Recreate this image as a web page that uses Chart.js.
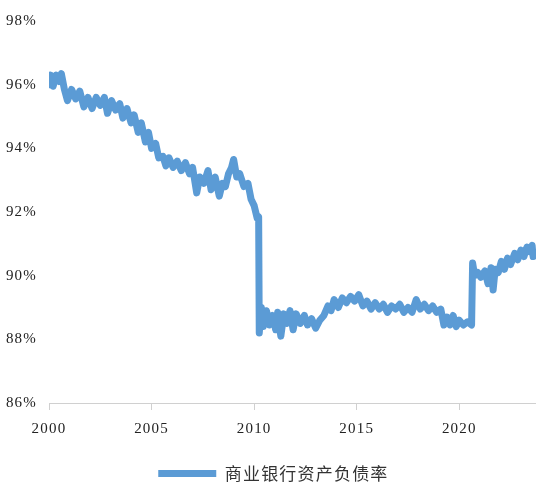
<!DOCTYPE html>
<html>
<head>
<meta charset="utf-8">
<script src="https://cdn.jsdelivr.net/npm/chart.js@4/dist/chart.umd.min.js"></script>
<style>
  html, body { margin: 0; padding: 0; background: #fff; }
  #wrap { width: 536px; height: 484px; }
</style>
</head>
<body>
<div id="wrap"><canvas id="myChart"></canvas></div>
<script>
// 时间轴（年）
let years = [
  2000.00, 2000.08, 2000.2, 2000.35, 2000.5, 2000.6, 2000.75, 2000.9,
  2001.1, 2001.3, 2001.5, 2001.7, 2001.9, 2002.1, 2002.3, 2002.5, 2002.7, 2002.85,
  2003.05, 2003.25, 2003.45, 2003.6, 2003.8, 2004.0, 2004.15, 2004.35, 2004.5, 2004.7, 2004.85,
  2005.0, 2005.2, 2005.35, 2005.55, 2005.7, 2005.85, 2006.05, 2006.25, 2006.45, 2006.65, 2006.85,
  2007.0, 2007.2, 2007.35, 2007.55, 2007.75, 2007.9, 2008.1, 2008.3, 2008.45, 2008.6, 2008.75, 2008.9,
  2009.0, 2009.15, 2009.3, 2009.5, 2009.7, 2009.85, 2010.0, 2010.15, 2010.22,
  2010.25, 2010.35, 2010.45, 2010.6, 2010.75, 2010.9, 2011.05, 2011.15, 2011.3, 2011.45, 2011.6, 2011.75, 2011.9,
  2012.05, 2012.25, 2012.45, 2012.6, 2012.8, 2013.0, 2013.2, 2013.4, 2013.6, 2013.75, 2013.9,
  2014.1, 2014.3, 2014.5, 2014.7, 2014.9, 2015.1, 2015.3, 2015.5, 2015.7, 2015.9,
  2016.1, 2016.3, 2016.5, 2016.7, 2016.9, 2017.1, 2017.3, 2017.5, 2017.7, 2017.9,
  2018.1, 2018.3, 2018.5, 2018.7, 2018.9, 2019.1, 2019.25, 2019.4, 2019.55, 2019.7, 2019.85,
  2020.0, 2020.2, 2020.4, 2020.6, 2020.65, 2020.75, 2020.9, 2021.05, 2021.25, 2021.4, 2021.55, 2021.65, 2021.75, 2021.9,
  2022.05, 2022.2, 2022.35, 2022.5, 2022.7, 2022.85, 2023.0, 2023.15, 2023.3, 2023.45, 2023.55, 2023.6
];

// 商业银行资产负债率 (%)
let ratio = [
  96.0, 96.3, 95.95, 96.3, 96.1, 96.35, 95.85, 95.5,
  95.85, 95.55, 95.8, 95.3, 95.6, 95.25, 95.6, 95.35, 95.6, 95.1,
  95.5, 95.2, 95.4, 94.95, 95.25, 94.8, 95.05, 94.5, 94.8, 94.2, 94.5,
  94.0, 94.15, 93.7, 93.75, 93.45, 93.7, 93.4, 93.6, 93.3, 93.55, 93.2,
  93.4, 92.6, 93.1, 92.9, 93.3, 92.7, 93.1, 92.5, 92.9, 92.8, 93.2, 93.4,
  93.65, 93.1, 93.2, 92.8, 92.9, 92.4, 92.2, 91.8, 91.85,
  88.2, 89.0, 88.4, 88.9, 88.45, 88.75, 88.3, 88.85, 88.1, 88.8, 88.5, 88.9, 88.3,
  88.8, 88.5, 88.75, 88.45, 88.65, 88.35, 88.6, 88.75, 89.05, 88.9, 89.25,
  89.0, 89.3, 89.15, 89.35, 89.2, 89.4, 89.05, 89.2, 88.95, 89.15,
  88.95, 89.1, 88.85, 89.05, 88.95, 89.1, 88.85, 89.0, 88.85, 89.25,
  88.95, 89.1, 88.9, 89.05, 88.85, 88.95, 88.45, 88.7, 88.45, 88.75, 88.4,
  88.6, 88.45, 88.55, 88.45, 90.4, 90.0, 90.1, 89.95, 90.15, 89.75, 90.25, 89.55, 90.2, 90.1,
  90.45, 90.2, 90.55, 90.35, 90.7, 90.5, 90.8, 90.6, 90.9, 90.75, 90.95, 90.6
];

let seriesName = "商业银行资产负债率";
let xTicks = [2000, 2005, 2010, 2015, 2020];
let yTicks = [86, 88, 90, 92, 94, 96, 98];

const points = years.map((x, i) => ({ x: x, y: ratio[i] }));

const tickFont = { family: "'Liberation Serif', 'DejaVu Serif', serif", size: 15 };

// 字间距（刻度文字比较宽）
const spacingPlugin = {
  id: "spacing",
  beforeDraw(chart) {
    chart.ctx.letterSpacing = "1.2px";
  }
};

const config = {
  type: "line",
  data: {
    datasets: [
      {
        label: seriesName,
        data: points,
        borderColor: "#5B9BD5",
        backgroundColor: "#5B9BD5",
        borderWidth: 7,
        borderJoinStyle: "round",
        borderCapStyle: "round",
        pointRadius: 0,
        tension: 0,
      },
    ],
  },
  options: {
    animation: false,
    responsive: true,
    maintainAspectRatio: false,
    layout: { padding: { top: 14, left: 0, right: 0, bottom: -8 } },
    plugins: {
      legend: {
        position: "bottom",
        labels: {
          usePointStyle: true,
          pointStyle: "line",
          pointStyleWidth: 58,
          color: "#333",
          padding: 6,
          font: { family: "'Noto Sans CJK SC', sans-serif", size: 17 },
        },
      },
      tooltip: { enabled: false },
    },
    scales: {
      x: {
        type: "linear",
        min: 2000,
        max: 2023.74,
        afterBuildTicks(scale) {
          scale.ticks = xTicks.map(v => ({ value: v }));
        },
        afterFit(scale) {
          scale.height = 56;
        },
        grid: { display: true, drawOnChartArea: false, drawTicks: true, tickLength: 7, color: "#d0d0d0" },
        border: { display: true, color: "#d0d0d0", width: 1 },
        ticks: { color: "#222", font: tickFont, padding: 10, maxRotation: 0, callback: v => String(v) },
      },
      y: {
        min: 86,
        max: 98,
        afterBuildTicks(scale) {
          scale.ticks = yTicks.map(v => ({ value: v }));
        },
        afterFit(scale) {
          scale.width = 49;
        },
        grid: { display: false, drawTicks: false },
        border: { display: false },
        ticks: { color: "#222", font: tickFont, padding: 12, callback: v => v + "%" },
      },
    },
  },
  plugins: [spacingPlugin],
};

const context = document.getElementById("myChart").getContext("2d");
const chart = new Chart(context, config);
</script>
</body>
</html>
